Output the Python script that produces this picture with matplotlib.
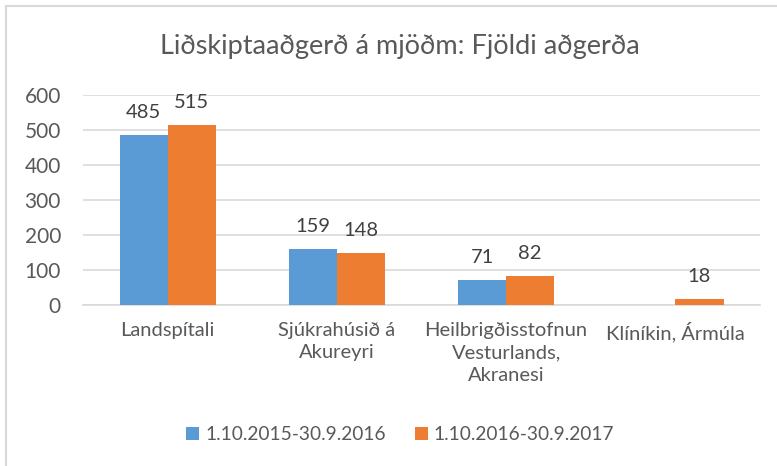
import matplotlib
matplotlib.use("Agg")
import matplotlib.pyplot as plt
import numpy as np

categories = ["Landspítali", "Sjúkrahúsið á\nAkureyri", "Heilbrigðisstofnun\nVesturlands,\nAkranesi", "Klíníkin, Ármúla"]
series_names = ["1.10.2015-30.9.2016", "1.10.2016-30.9.2017"]
values_2016 = [485, 159, 71, None]
values_2017 = [515, 148, 82, 18]
colors = ["#5B9BD5", "#ED7D31"]
yticks = [0, 100, 200, 300, 400, 500, 600]

plt.rcParams['font.family'] = ['Lato', 'DejaVu Sans']
txt = "#595959"

fig = plt.figure(figsize=(7.77, 4.66), dpi=100)
ax = fig.add_axes([0.107, 0.3455, 0.871, 0.4505])

x = np.arange(len(categories))
w = 0.285
for i, (vals, c, name) in enumerate(zip([values_2016, values_2017], colors, series_names)):
    xs = [xi + (i - 0.5) * w for xi, v in zip(x, vals) if v is not None]
    vs = [v for v in vals if v is not None]
    bars = ax.bar(xs, vs, width=w, color=c, label=name, zorder=3)
    for b, v in zip(bars, vs):
        ax.text(b.get_x() + b.get_width() / 2, v + 40, str(v), ha='center', va='bottom',
                fontsize=14.5, color="#404040")

ax.set_xlim(-0.5, len(categories) - 0.5)
ax.set_ylim(0, 600)
ax.set_yticks(yticks)
ax.set_yticklabels([str(t) for t in yticks], fontsize=15, color=txt)
ax.set_xticks(x)
ax.set_xticklabels(categories, fontsize=14.5, color=txt, linespacing=1.4)
ax.tick_params(axis='both', length=0)
ax.tick_params(axis='x', pad=12)
ax.tick_params(axis='y', pad=16)
for lbl in ax.get_yticklabels():
    lbl.set_horizontalalignment('right')
ax.grid(axis='y', color="#D9D9D9", linewidth=1.2, zorder=0)
for s in ['top', 'right', 'left']:
    ax.spines[s].set_visible(False)
ax.spines['bottom'].set_color("#D9D9D9")
ax.spines['bottom'].set_linewidth(1.2)

fig.text(0.515, 0.9, "Liðskiptaaðgerð á mjöðm: Fjöldi aðgerða", ha='center', va='center',
         fontsize=19.5, color=txt)

leg = fig.legend(loc='center', bbox_to_anchor=(0.515, 0.067), ncol=2, frameon=False,
                 fontsize=13.8, handlelength=0.7, handleheight=0.7, handletextpad=0.3,
                 columnspacing=1.5)
for t in leg.get_texts():
    t.set_color(txt)

# chart border
fig.add_artist(plt.Line2D([0.008, 0.008], [0.0, 0.988], transform=fig.transFigure, color="#D9D9D9", lw=1.5))
fig.add_artist(plt.Line2D([0.008, 1.0], [0.988, 0.988], transform=fig.transFigure, color="#D9D9D9", lw=1.5))

fig.savefig("out.png", dpi=100, facecolor='white')
